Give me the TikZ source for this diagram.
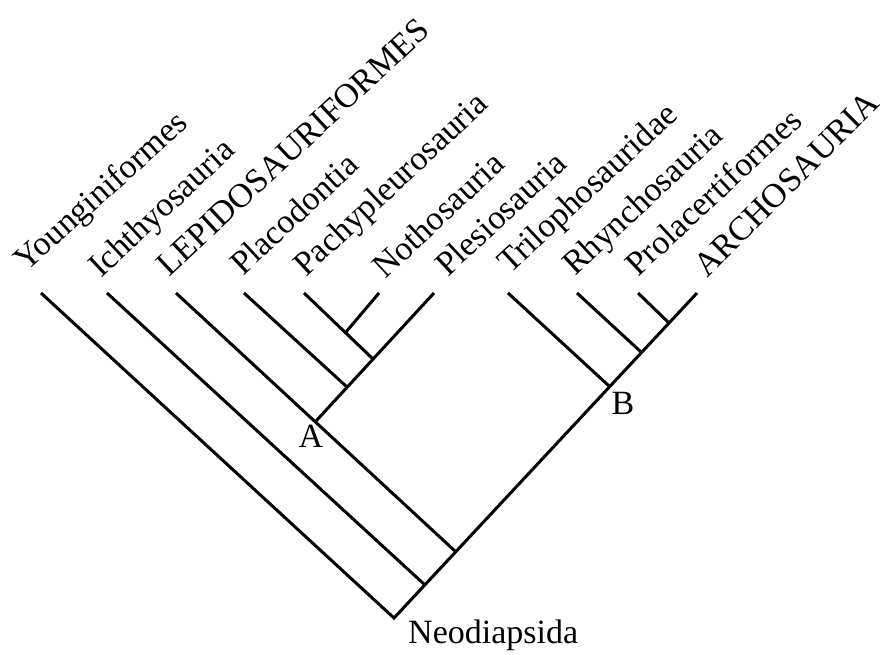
\documentclass[tikz,border=0pt]{standalone}
\usepackage{fontspec}
\setmainfont{Liberation Serif}
\tikzset{
  branch/.style={line width=3pt, line join=miter},
  taxon/.style={anchor=base west, inner sep=0pt, rotate=43, font=\fontsize{34}{40}\selectfont},
  clade/.style={inner sep=0pt, font=\fontsize{34}{40}\selectfont}
}
\begin{document}
\begin{tikzpicture}[x=1pt,y=1pt]
  \useasboundingbox (0,0) rectangle (883,654);

	% Tips
	\coordinate (young)   at (41,361);
	\coordinate (ichth)   at (107,361);
	\coordinate (lepido)  at (176,361);
	\coordinate (placo)   at (244,361);
	\coordinate (pachy)   at (304,361);
	\coordinate (notho)   at (379,361);
	\coordinate (plesio)  at (434,361);
	\coordinate (trilo)   at (508,361);
	\coordinate (rhyncho) at (577,361);
	\coordinate (prolac)  at (638,361);
	\coordinate (archo)   at (697,361);

	% Inner nodes
	\coordinate (root) at (394,36);
	\coordinate (n1)   at (425,69);
	\coordinate (n2)   at (456,102);
	\coordinate (A)    at (316,233);
	\coordinate (n3)   at (347,267);
	\coordinate (n4)   at (373,295);
	\coordinate (n5)   at (346,322);
	\coordinate (B)    at (609,268);
	\coordinate (n6)   at (641,302);
	\coordinate (n7)   at (669,331);

	% Tree
	\draw[branch] (young) -- (root) -- (archo);
	\draw[branch] (ichth) -- (n1);
	\draw[branch] (lepido) -- (n2);
	\draw[branch] (plesio) -- (A);
	\draw[branch] (placo) -- (n3);
	\draw[branch] (pachy) -- (n4);
	\draw[branch] (notho) -- (n5);
	\draw[branch] (trilo) -- (B);
	\draw[branch] (rhyncho) -- (n6);
	\draw[branch] (prolac) -- (n7);

	% Labels
	\node[taxon, rotate=-1] (lyoung) at (26,381)  {Younginiformes};
	\node[taxon] (lichth)   at (101,375) {Ichthyosauria};
	\node[taxon] (llepido)  at (169,376) {LEPIDOSAURIFORMES};
	\node[taxon] (lplaco)   at (243,377) {Placodontia};
	\node[taxon] (lpachy)   at (306,376) {Pachypleurosauria};
	\node[taxon] (lnotho)   at (385,374) {Nothosauria};
	\node[taxon] (lplesio)  at (448,376) {Plesiosauria};
	\node[taxon] (ltrilo)   at (510,379) {Trilophosauridae};
	\node[taxon] (lrhyncho) at (575,377) {Rhynchosauria};
	\node[taxon] (lprolac)  at (638,376) {Prolacertiformes};
	\node[taxon, rotate=2] (larcho) at (707,375) {ARCHOSAURIA};

	\node[clade] (lA) at (311,218) {A};
	\node[clade] (lB) at (623,251) {B};
	\node[clade, anchor=base west] (lroot) at (408,11) {Neodiapsida};

\end{tikzpicture}
\end{document}
